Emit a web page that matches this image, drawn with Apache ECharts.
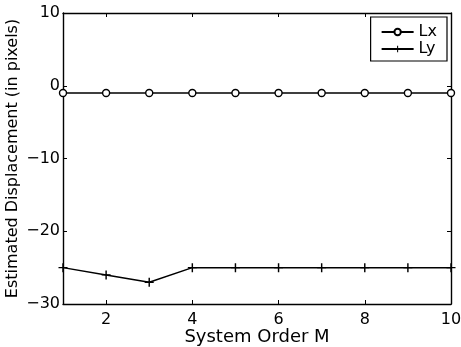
<!DOCTYPE html>
<html>
<head>
<meta charset="utf-8">
<script src="https://cdn.jsdelivr.net/npm/echarts@6/dist/echarts.min.js"></script>
<style>
  html, body { margin: 0; padding: 0; background: #fff; }
  #chart { width: 461px; height: 347px; }
</style>
</head>
<body>
<div id="chart"></div>
<script>
// system order M
const orders = [1, 2, 3, 4, 5, 6, 7, 8, 9, 10];
// estimated displacement (pixels)
const lx = [-1, -1, -1, -1, -1, -1, -1, -1, -1, -1];
const ly = [-25, -26, -27, -25, -25, -25, -25, -25, -25, -25];
const xTicks = [2, 4, 6, 8, 10];
const yTicks = [-30, -20, -10, 0, 10];

const font = 'DejaVu Sans, Arial, sans-serif';
const plus = 'path://M0,4.2H10V5.8H0Z M4.2,0H5.8V10H4.2Z';

const chart = echarts.init(document.getElementById('chart'));

const axisBase = {
    type: 'value',
    axisLine: { show: true, onZero: false, lineStyle: { color: '#000', width: 1.4 } },
    axisTick: { show: true, inside: true, length: 4, lineStyle: { color: '#000', width: 1 } },
    splitLine: { show: false }
};

chart.setOption({
    animation: false,
    textStyle: { fontFamily: font },
    grid: { left: 63, right: 10, top: 13, bottom: 43, containLabel: false, outerBoundsMode: 'none' },
    legend: {
        right: 14, top: 17,
        orient: 'vertical',
        itemWidth: 32, itemHeight: 8,
        itemGap: 1,
        textGap: 10,
        padding: [7, 10, 4, 10],
        borderColor: '#000', borderWidth: 1.2,
        backgroundColor: '#fff',
        textStyle: { fontSize: 16, lineHeight: 16, color: '#000', fontFamily: font },
        data: ['Lx', 'Ly']
    },
    xAxis: [
        Object.assign({}, axisBase, {
            min: 1, max: 10,
            position: 'bottom',
            name: 'System Order M',
            nameLocation: 'middle',
            nameGap: 24,
            nameMoveOverlap: false,
            nameTextStyle: { fontSize: 18, color: '#000', fontFamily: font },
            axisTick: Object.assign({}, axisBase.axisTick, { customValues: xTicks }),
            axisLabel: { customValues: xTicks, fontSize: 16, color: '#000', margin: 8, fontFamily: font }
        }),
        Object.assign({}, axisBase, {
            min: 1, max: 10,
            position: 'top',
            axisTick: Object.assign({}, axisBase.axisTick, { customValues: xTicks }),
            axisLabel: { show: false }
        })
    ],
    yAxis: [
        Object.assign({}, axisBase, {
            min: -30, max: 10, interval: 10,
            position: 'left',
            name: 'Estimated Displacement (in pixels)',
            nameLocation: 'middle',
            nameGap: 42,
            nameMoveOverlap: false,
            nameTextStyle: { fontSize: 16, color: '#000', fontFamily: font },
            axisTick: Object.assign({}, axisBase.axisTick, { customValues: yTicks }),
            axisLabel: { customValues: yTicks, fontSize: 16, color: '#000', margin: 3, fontFamily: font,
                formatter: v => (v < 0 ? '\u2212' + Math.abs(v) : String(v)) }
        }),
        Object.assign({}, axisBase, {
            min: -30, max: 10, interval: 10,
            position: 'right',
            axisTick: Object.assign({}, axisBase.axisTick, { customValues: yTicks }),
            axisLabel: { show: false }
        })
    ],
    series: [
        {
            name: 'Lx',
            type: 'line',
            data: orders.map((m, i) => [m, lx[i]]),
            symbol: 'circle',
            symbolSize: 7,
            showAllSymbol: true,
            lineStyle: { color: '#000', width: 1.5 },
            itemStyle: { color: '#fff', borderColor: '#000', borderWidth: 1.4 }
        },
        {
            name: 'Ly',
            type: 'line',
            data: orders.map((m, i) => [m, ly[i]]),
            symbol: plus,
            symbolSize: 9,
            showAllSymbol: true,
            lineStyle: { color: '#000', width: 1.5 },
            itemStyle: { color: '#000' }
        }
    ]
});
</script>
</body>
</html>
